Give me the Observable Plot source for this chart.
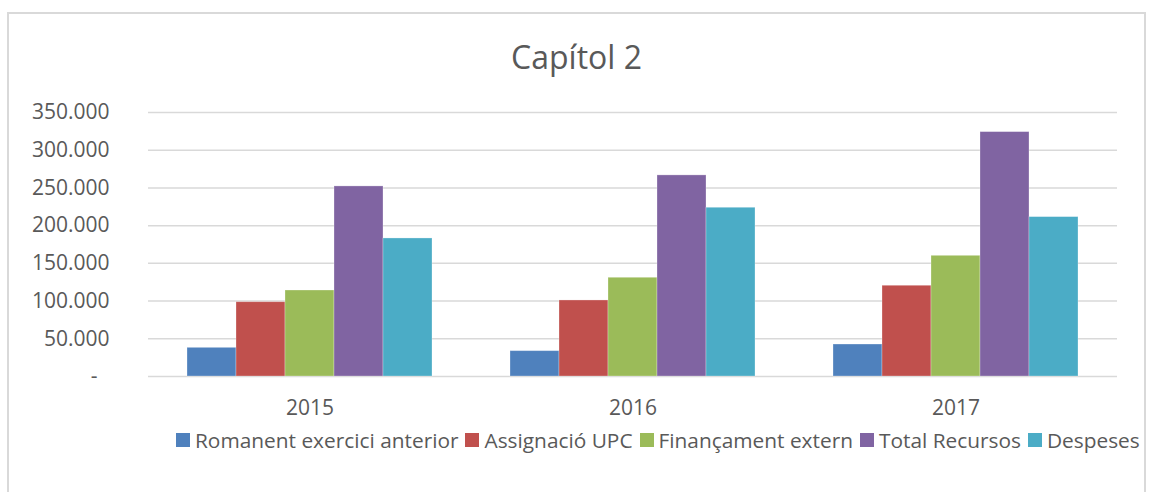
<!DOCTYPE html>
<html>
<head>
<meta charset="utf-8">
<script src="https://cdn.jsdelivr.net/npm/d3@7"></script>
<script src="https://cdn.jsdelivr.net/npm/@observablehq/plot@0.6"></script>
<style>
  html, body { margin: 0; padding: 0; background: #fff; }
  #wrap { position: relative; width: 1149px; height: 492px; overflow: hidden; font-family: "Open Sans", sans-serif; color: #595959; }
  #chart { position: absolute; left: 0; top: 0; }
  #chart svg { background: transparent !important; }
  #frame { position: absolute; left: 7px; top: 12px; width: 1139px; height: 520px; border: 2px solid #d9d9d9; box-sizing: border-box; pointer-events: none; z-index: 5; }
  #title { position: absolute; left: 7px; width: 1139px; top: 37px; text-align: center; font-size: 32px; line-height: 40px; }
  #legend { position: absolute; left: 176px; top: 427px; display: flex; align-items: center; font-size: 20.85px; line-height: 26px; white-space: nowrap; }
  .item { display: flex; align-items: center; margin-right: 7px; flex-shrink: 0; }
  .item:last-child { margin-right: 0; }
  .sw { width: 14px; height: 14px; margin-right: 5px; flex-shrink: 0; }
</style>
</head>
<body>
<div id="wrap">
  <div id="chart"></div>
  <div id="title">Capítol 2</div>
  <div id="legend"></div>
  <div id="frame"></div>
</div>
<script>
const years = ["2015", "2016", "2017"];
const seriesNames = ["Romanent exercici anterior", "Assignació UPC", "Finançament extern", "Total Recursos", "Despeses"];
const colors = ["#4f81bd", "#c0504d", "#9bbb59", "#8064a2", "#4bacc6"];
const romanent = [38000, 33600, 42400];
const assignacio = [98500, 100800, 120300];
const financament = [114000, 130900, 160000];
const totalRecursos = [252000, 266600, 324000];
const despeses = [183000, 223700, 211300];
const yTicks = [0, 50000, 100000, 150000, 200000, 250000, 300000, 350000];

const seriesValues = [romanent, assignacio, financament, totalRecursos, despeses];
const data = [];
years.forEach((y, i) => {
  seriesNames.forEach((s, j) => {
    data.push({year: y, series: s, value: seriesValues[j][i]});
  });
});

const fmt = d => d === 0 ? "-\u2007" : d3.format(",")(d).replace(/,/g, ".");

const plot = Plot.plot({
  width: 1149,
  height: 420,
  marginTop: 112,
  marginBottom: 44,
  marginLeft: 148,
  marginRight: 32,
  style: {fontSize: "21px", fontFamily: "Open Sans, sans-serif", color: "#595959", background: "transparent", overflow: "visible"},
  fx: {domain: years, paddingInner: 0, paddingOuter: 0},
  x: {domain: seriesNames, paddingInner: 0, paddingOuter: 0.75, axis: null},
  y: {domain: [0, 350000]},
  color: {domain: seriesNames, range: colors},
  marks: [
    Plot.ruleY(yTicks, {stroke: "#d9d9d9", strokeWidth: 1.5}),
    Plot.barY(data, {fx: "year", x: "series", y: "value", fill: "series", stroke: "#ffffff", strokeOpacity: 0.35, strokeWidth: 0.8}),
    Plot.axisY({ticks: yTicks, tickFormat: fmt, tickSize: 0, tickPadding: 39, label: null}),
    Plot.axisFx({anchor: "bottom", tickSize: 0, tickPadding: 24, label: null})
  ]
});
document.getElementById("chart").appendChild(plot);

const legend = document.getElementById("legend");
seriesNames.forEach((s, i) => {
  const item = document.createElement("div");
  item.className = "item";
  const sw = document.createElement("span");
  sw.className = "sw";
  sw.style.background = colors[i];
  const t = document.createElement("span");
  t.textContent = s;
  item.appendChild(sw);
  item.appendChild(t);
  legend.appendChild(item);
});
</script>
</body>
</html>
